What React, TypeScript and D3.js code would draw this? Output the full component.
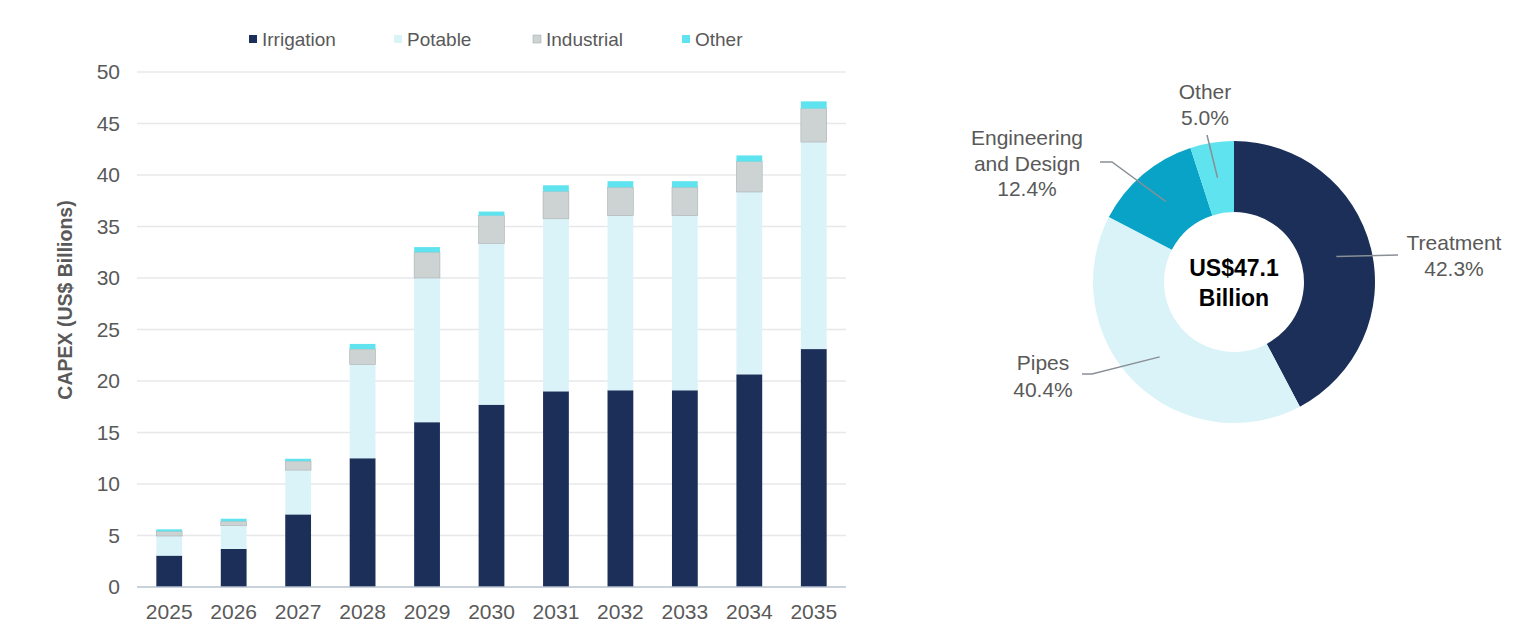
import React from "react";
import * as d3 from "d3";

const years = ["2025","2026","2027","2028","2029","2030","2031","2032","2033","2034","2035"];
const irrigation = [3.05, 3.7, 7.05, 12.5, 16.0, 17.7, 19.0, 19.1, 19.1, 20.65, 23.1];
const potable = [1.9, 2.25, 4.3, 9.1, 14.0, 15.65, 16.75, 16.95, 16.95, 17.7, 20.1];
const industrial = [0.45, 0.43, 0.87, 1.5, 2.5, 2.7, 2.65, 2.75, 2.75, 2.95, 3.25];
const other = [0.2, 0.25, 0.23, 0.5, 0.5, 0.4, 0.6, 0.6, 0.6, 0.6, 0.7];
const seriesNames = ["Irrigation", "Potable", "Industrial", "Other"];
const yTicks = [0, 5, 10, 15, 20, 25, 30, 35, 40, 45, 50];

const donutLabels = ["Treatment", "Pipes", "Engineering and Design", "Other"];
const donutShares = [42.3, 40.4, 12.4, 5.0];
const donutTotal = "US$47.1";

const NAVY = "#1b2f59";
const LIGHT = "#daf3f8";
const GREY = "#cdd3d3";
const CYAN = "#5fe3ee";
const TEAL = "#08a3c7";
const seriesColors = [NAVY, LIGHT, GREY, CYAN];
const donutColors = [NAVY, LIGHT, TEAL, CYAN];
const TXT = "#595959";
const FONT = "'Liberation Sans', Arial, sans-serif";

export default function App() {
  const left = 137, right = 846, top = 72, bottom = 587;
  const x = d3.scaleBand<string>().domain(years).range([left, right]).paddingInner(0.6).paddingOuter(0.3);
  const y = d3.scaleLinear().domain([0, 50]).range([bottom, top]);

  const rows = years.map((yr, i) => ({
    year: yr,
    Irrigation: irrigation[i],
    Potable: potable[i],
    Industrial: industrial[i],
    Other: other[i],
  }));
  const stacked = d3.stack<any>().keys(seriesNames)(rows);

  // donut
  const cx = 1234, cy = 282, rOuter = 141, rInner = 70;
  const pie = d3.pie<number>().sort(null).value((d) => d);
  const arcs = pie(donutShares);
  const arcGen = d3.arc<any>().innerRadius(rInner).outerRadius(rOuter);

  const labelLayout = [
    { end: [1398, 255], elbow: null, tx: 1454, ty: [243, 269] },
    { end: [1082, 374], elbow: [1092, 374], tx: 1043, ty: [363, 390] },
    { end: [1100, 162], elbow: [1112, 162], tx: 1027, ty: [138, 164, 189] },
    { end: [1207, 135], elbow: null, tx: 1205, ty: [92, 118] },
  ];
  const labelLines = (i: number) => {
    const name = donutLabels[i];
    const pct = donutShares[i].toFixed(1) + "%";
    if (name === "Engineering and Design") return ["Engineering", "and Design", pct];
    return [name, pct];
  };

  const legendX = [249, 394, 533, 682];

  return (
    <svg width={1536} height={630} style={{ position: "absolute", left: 0, top: 0, background: "#fff" }} fontFamily={FONT}>
      {yTicks.filter((t) => t > 0).map((t) => (
        <line key={t} x1={left} x2={right} y1={y(t)} y2={y(t)} stroke="#e6e8ea" strokeWidth={1.5} />
      ))}
      {stacked.map((s, si) => (
        <g key={s.key} fill={seriesColors[si]}>
          {s.map((d: any, i: number) => (
            <rect key={i} x={x(years[i])} width={x.bandwidth()} y={y(d[1])} height={y(d[0]) - y(d[1])}
              stroke={si === 2 ? "#a9b0b3" : "none"} strokeWidth={si === 2 ? 0.6 : 0} />
          ))}
        </g>
      ))}
      <line x1={left} x2={right} y1={y(0)} y2={y(0)} stroke="#b7c2cf" strokeWidth={1.5} />
      {yTicks.map((t) => (
        <text key={t} x={120} y={y(t)} dy="0.35em" textAnchor="end" fontSize={21} fill={TXT}>{t}</text>
      ))}
      {years.map((yr) => (
        <text key={yr} x={(x(yr) as number) + x.bandwidth() / 2} y={619} textAnchor="middle" fontSize={21} fill={TXT}>{yr}</text>
      ))}
      <text transform={`translate(72,300) rotate(-90)`} textAnchor="middle" fontSize={19.5} fontWeight="bold" fill={TXT}>
        CAPEX (US$ Billions)
      </text>
      {seriesNames.map((n, i) => (
        <g key={n}>
          <rect x={legendX[i]} y={35} width={8} height={8} fill={seriesColors[i]} stroke={i === 2 ? "#a9b0b3" : "none"} strokeWidth={0.6} />
          <text x={legendX[i] + 13} y={39} dy="0.35em" fontSize={19} fill={TXT}>{n}</text>
        </g>
      ))}

      <g transform={`translate(${cx},${cy})`}>
        {arcs.map((a, i) => (
          <path key={i} d={arcGen(a) as string} fill={donutColors[i]} />
        ))}
      </g>
      {arcs.map((a, i) => {
        const [mx, my] = arcGen.centroid(a);
        const L = labelLayout[i];
        const pts = [[cx + mx, cy + my]];
        if (L.elbow) pts.push(L.elbow);
        pts.push(L.end);
        return (
          <g key={i}>
            <polyline points={pts.map((p) => p.join(",")).join(" ")} fill="none" stroke="#8a8f96" strokeWidth={1.5} />
            {labelLines(i).map((t, j) => (
              <text key={j} x={L.tx} y={L.ty[j]} dy="0.35em" textAnchor="middle" fontSize={21} fill={TXT}>{t}</text>
            ))}
          </g>
        );
      })}
      <text x={cx} y={268} dy="0.35em" textAnchor="middle" fontSize={23} fontWeight="bold" fill="#000">{donutTotal}</text>
      <text x={cx} y={298} dy="0.35em" textAnchor="middle" fontSize={23} fontWeight="bold" fill="#000">Billion</text>
    </svg>
  );
}
